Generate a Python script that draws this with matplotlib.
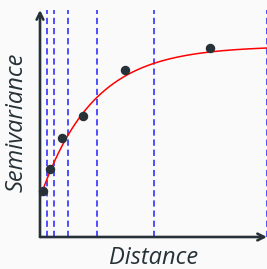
import numpy as np
import matplotlib.pyplot as plt

plt.rcParams['lines.scale_dashes'] = False

# lag bins (distance units) and empirical semivariance
bin_edges = [1, 2, 4, 8, 16, 32]
lag_dist = [0.46, 1.45, 3.05, 6.06, 12.0, 24.0]
semivar = [2.3, 3.42, 4.95, 6.07, 8.33, 9.47]

# fitted exponential model
nugget = 1.95
sill = 9.55
rng = 7.4

ink = '#263238'
bg = '#fafafa'

fig = plt.figure(figsize=(2.67, 2.69), dpi=100, facecolor=bg)
ax = fig.add_axes([40/267, 32/269, 227/267, 227/269], facecolor=bg)
ax.set_xlim(0, 32)
ax.set_ylim(0, 11.35)

for e in bin_edges:
    ax.axvline(e, color='blue', alpha=0.8, lw=1.2, dashes=(4.5, 2.8), clip_on=False)

h = np.linspace(0, 32, 300)
gamma = nugget + (sill - nugget) * (1 - np.exp(-h / rng))
ax.plot(h, gamma, color='red', lw=1.1)

ax.plot(lag_dist, semivar, 'o', color=ink, ms=5.8, clip_on=False, zorder=5)

for s in ax.spines.values():
    s.set_visible(False)
ax.set_xticks([])
ax.set_yticks([])

arrow = dict(arrowstyle='->', color=ink, lw=1.9, mutation_scale=12, shrinkA=0, shrinkB=0)
ax.annotate('', xy=(0, 1.0), xytext=(0, 0), xycoords='axes fraction', arrowprops=arrow)
ax.annotate('', xy=(1.0, 0), xytext=(0, 0), xycoords='axes fraction', arrowprops=arrow)

fig.text(153.5/267, 1 - 258/269, 'Distance', ha='center', va='center',
         family='Open Sans', style='italic', fontsize=17, color=ink)
fig.text(16.5/267, 1 - 122/269, 'Semivariance', ha='center', va='center', rotation=90,
         family='Open Sans', style='italic', fontsize=17, color=ink)

fig.savefig('out.png', dpi=100, facecolor=bg)
